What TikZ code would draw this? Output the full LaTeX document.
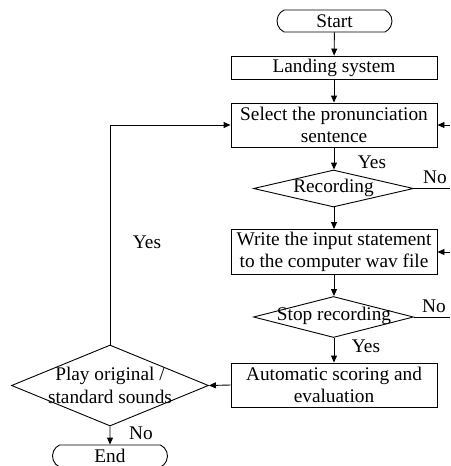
\documentclass[tikz,border=0pt]{standalone}
\usepackage{fontspec}
\setmainfont{Liberation Serif}
\usetikzlibrary{shapes.geometric,shapes.misc,arrows.meta}

\begin{document}
\begin{tikzpicture}[x=1pt,y=-1pt,
  line width=0.9pt,
  every node/.style={font=\fontsize{19.3}{22.5}\selectfont, inner sep=0pt},
  procbox/.style={draw, rectangle, minimum width=206pt, align=center},
  term/.style={draw, rounded rectangle, rounded rectangle arc length=130,
               minimum width=115pt, minimum height=22pt},
  decision/.style={draw, diamond, inner sep=0pt},
  flow/.style={-{Triangle[length=7pt,width=6pt]}}]
\useasboundingbox (0,0) rectangle (450,466);

% main column
\node[term] (start) at (334.5,21) {Start};
\node[procbox, minimum height=23pt] (land) at (334,67.5) {Landing system};
\node[procbox, minimum height=44pt] (sel) at (334,125) {Select the pronunciation\\sentence};
\node[decision, minimum width=160pt, minimum height=37pt] (rec) at (333.5,188.5) {};
\node (recT) at (333.5,188) {Recording};
\node[procbox, minimum height=45pt] (write) at (334,252) {Write the input statement\\to the computer wav file};
\node[decision, minimum width=160pt, minimum height=41pt] (stop) at (333.5,317) {};
\node (stopT) at (334,316) {Stop recording};
\node[procbox, minimum height=44pt] (auto) at (334,385) {Automatic scoring and\\evaluation};

% left column
\node[decision, minimum width=197pt, minimum height=81pt] (play) at (110,385.5) {};
\node[align=center] (playT) at (110,385.5) {Play original /\\standard sounds};
\node[term] (end) at (110,456) {End};

% free ends on the right
\coordinate (inS) at (450,125);
\coordinate (inW) at (450,252);
\coordinate (noR) at (450,188.5);
\coordinate (noS) at (450,317);

% connectors
\draw[flow] (start) -- (land);
\draw[flow] (land) -- (sel);
\draw[flow] (sel.south) -- (sel.south |- rec.north);
\draw[flow] (rec.south -| write.north) -- (write.north);
\draw[flow] (write.south) -- (write.south |- stop.north);
\draw[flow] (stop.south -| auto.north) -- (auto.north);
\draw[flow] (auto.west) -- (play.east);
\draw[flow] (play) -- (end);
\draw[flow] (play.north) |- (sel.west);
\draw[flow] (inS) -- (sel.east);
\draw[flow] (inW) -- (write.east);
\draw (rec.east) -- (noR);
\draw (stop.east) -- (noS);

% branch labels
\node (yesR) at (372,162) {Yes};
\node (noRl) at (435,177) {No};
\node (noSl) at (434,306) {No};
\node (yesS) at (366,346) {Yes};
\node (yesP) at (147,242) {Yes};
\node (noP) at (141,433) {No};
\end{tikzpicture}
\end{document}
